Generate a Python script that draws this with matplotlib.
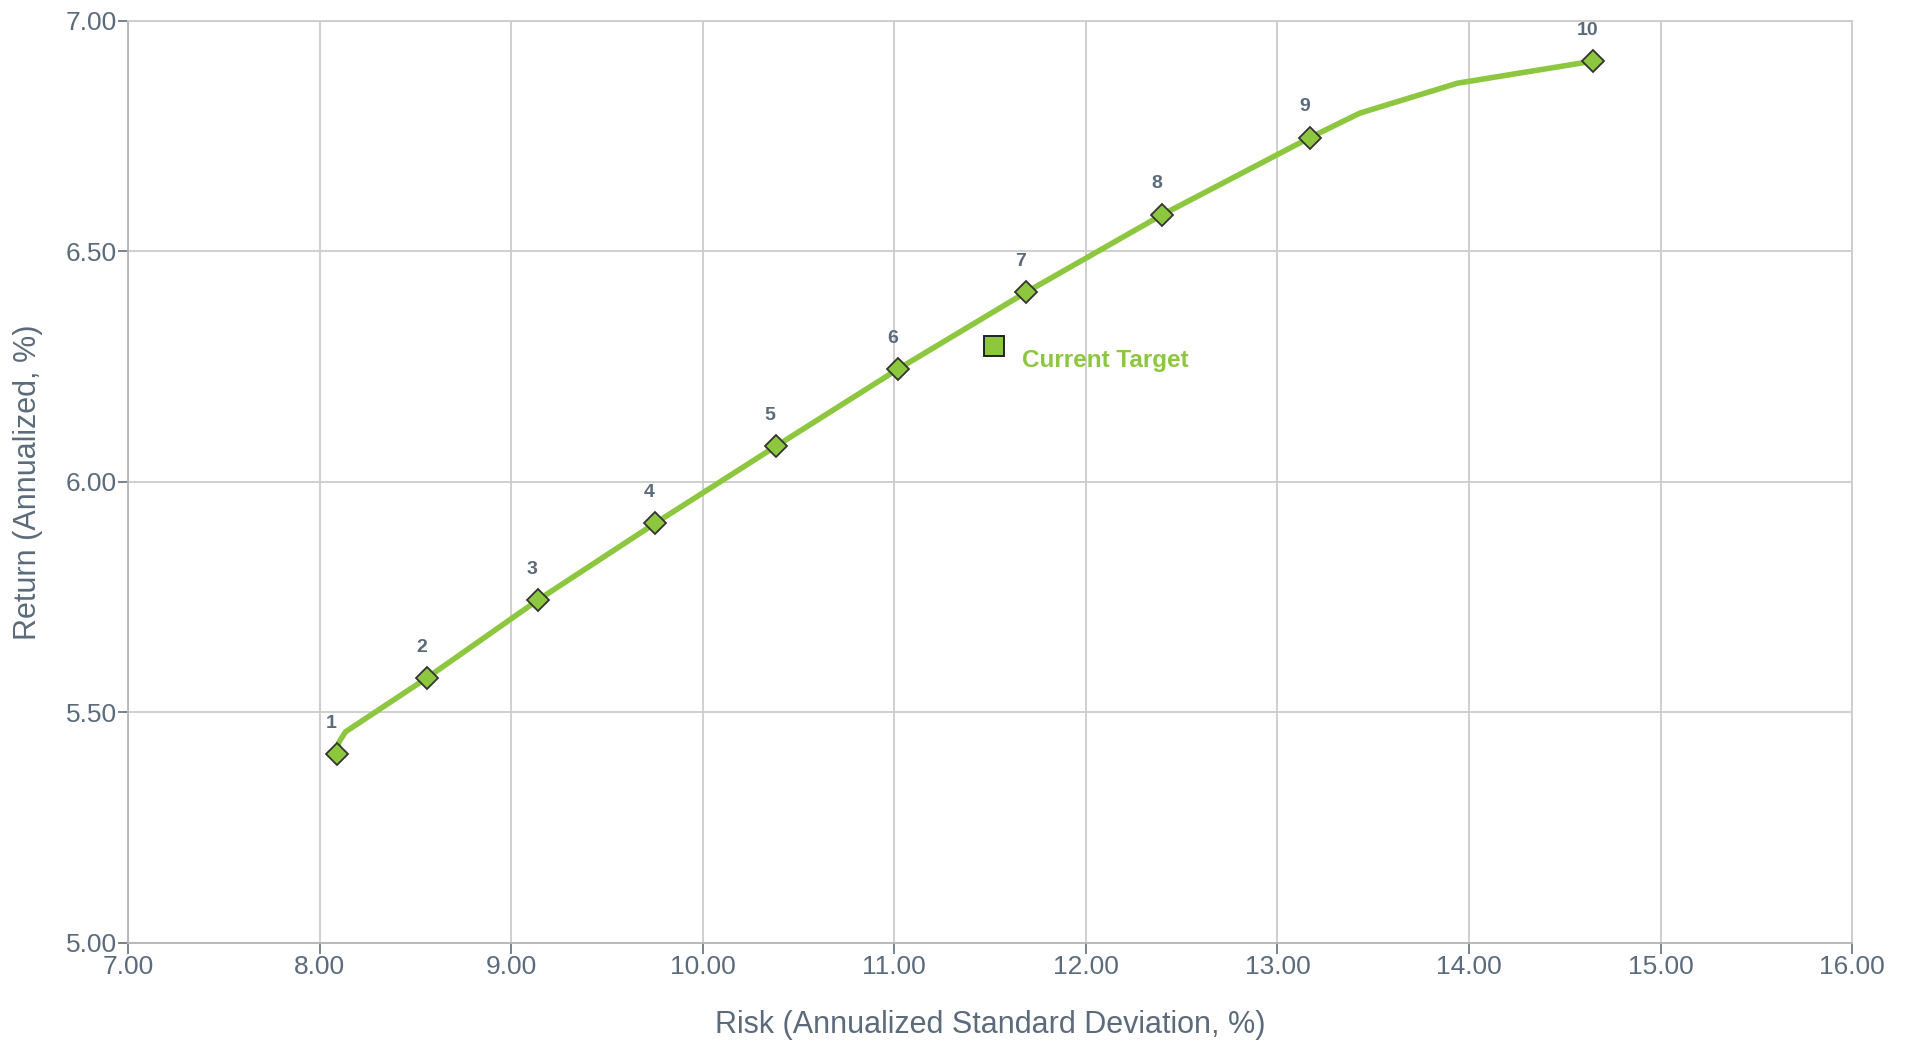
import matplotlib.pyplot as plt

plt.rcParams['font.family'] = ['Liberation Sans', 'DejaVu Sans']

# Efficient frontier curve (risk %, return %)
frontier_risk = [8.09, 8.10, 8.135, 8.56, 9.14, 9.75, 10.38, 11.02, 11.69, 12.40, 13.17, 13.43, 13.94, 14.65]
frontier_return = [5.41, 5.435, 5.458, 5.575, 5.744, 5.910, 6.077, 6.245, 6.412, 6.580, 6.747, 6.800, 6.865, 6.913]

# Model portfolios along the frontier
portfolio_labels = ['1', '2', '3', '4', '5', '6', '7', '8', '9', '10']
portfolio_risk = [8.09, 8.56, 9.14, 9.75, 10.38, 11.02, 11.69, 12.40, 13.17, 14.65]
portfolio_return = [5.41, 5.575, 5.744, 5.910, 6.077, 6.245, 6.412, 6.580, 6.747, 6.913]

# Current target allocation
target_risk = 11.52
target_return = 6.296
target_label = 'Current Target'

green = '#8dc63f'
text_color = '#5c6b7c'
grid_color = '#cccccc'

fig = plt.figure(figsize=(19.06, 10.43), dpi=100)
ax = fig.add_axes([0.0672, 0.0959, 0.9045, 0.8840])

ax.plot(frontier_risk, frontier_return, color=green, lw=4, solid_capstyle='round',
        solid_joinstyle='round', zorder=3)
ax.plot(portfolio_risk, portfolio_return, ls='none', marker='D', ms=11,
        mfc=green, mec='#333333', mew=1.3, zorder=4)

for lab, x, y in zip(portfolio_labels, portfolio_risk, portfolio_return):
    ax.annotate(lab, (x, y), xytext=(-4, 16), textcoords='offset points',
                ha='center', va='bottom', fontsize=14, fontweight='bold',
                color=text_color)

ax.plot([target_risk], [target_return], ls='none', marker='s', ms=15,
        mfc=green, mec='#222222', mew=1.4, zorder=5)
ax.annotate(target_label, (target_risk, target_return), xytext=(20, -11),
            textcoords='offset points', ha='left', va='center',
            fontsize=17.5, fontweight='bold', color=green)

ax.set_xlim(7, 16)
ax.set_ylim(5, 7)
ax.set_xticks([7, 8, 9, 10, 11, 12, 13, 14, 15, 16])
ax.set_yticks([5.0, 5.5, 6.0, 6.5, 7.0])
ax.xaxis.set_major_formatter(plt.FormatStrFormatter('%.2f'))
ax.yaxis.set_major_formatter(plt.FormatStrFormatter('%.2f'))

ax.grid(True, color=grid_color, lw=1.3)
ax.set_axisbelow(True)
for s in ax.spines.values():
    s.set_color(grid_color)
    s.set_linewidth(1.3)
ax.spines['left'].set_color('#b5b5b5')
ax.spines['bottom'].set_color('#b5b5b5')

ax.tick_params(axis='x', length=8, width=1.3, color='#6d7a88', labelsize=19,
               labelcolor=text_color, pad=1)
ax.tick_params(axis='y', length=7, width=1.3, color='#6d7a88', labelsize=19,
               labelcolor=text_color, pad=1)

ax.set_xlabel('Risk (Annualized Standard Deviation, %)', fontsize=22,
              color=text_color, labelpad=22)
ax.set_ylabel('Return (Annualized, %)', fontsize=22, color=text_color, labelpad=16)

fig.savefig('out.png', dpi=100)
